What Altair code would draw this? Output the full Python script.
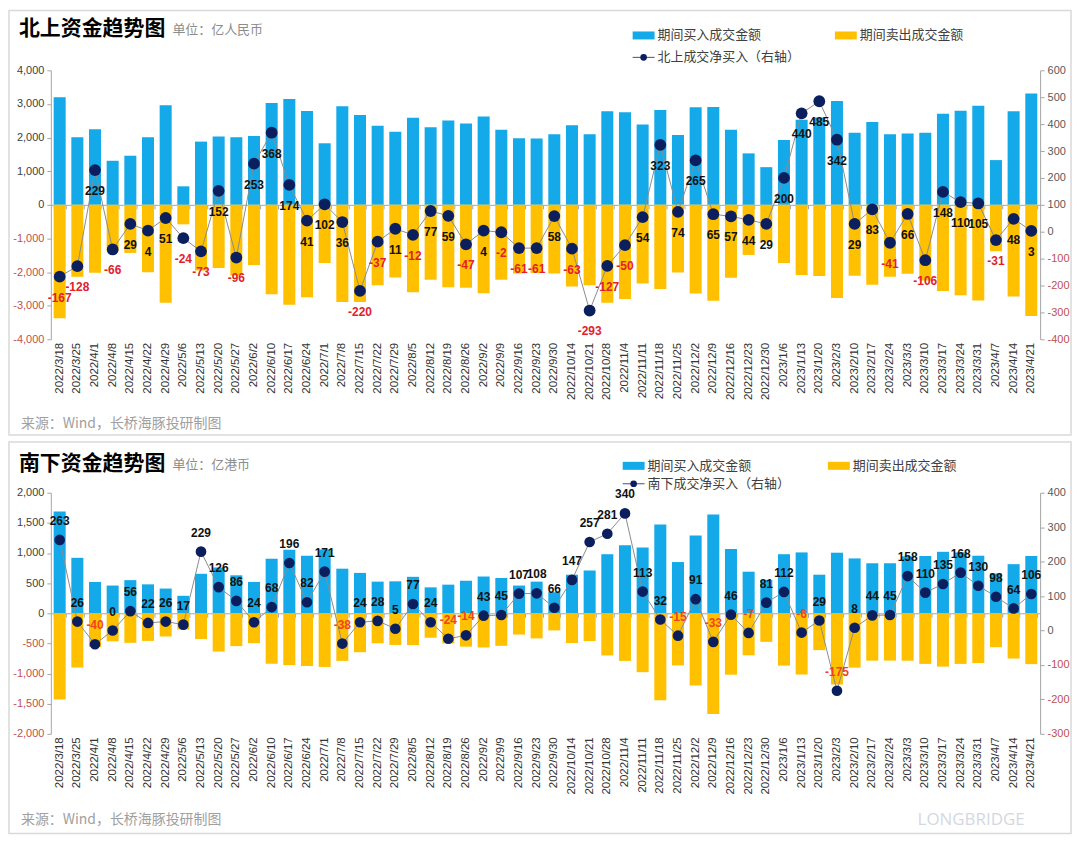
import altair as alt
import pandas as pd

dates = ["2022/3/18", "2022/3/25", "2022/4/1", "2022/4/8", "2022/4/15", "2022/4/22", "2022/4/29",
         "2022/5/6", "2022/5/13", "2022/5/20", "2022/5/27", "2022/6/2", "2022/6/10", "2022/6/17",
         "2022/6/24", "2022/7/1", "2022/7/8", "2022/7/15", "2022/7/22", "2022/7/29", "2022/8/5",
         "2022/8/12", "2022/8/19", "2022/8/26", "2022/9/2", "2022/9/9", "2022/9/16", "2022/9/23",
         "2022/9/30", "2022/10/14", "2022/10/21", "2022/10/28", "2022/11/4", "2022/11/11",
         "2022/11/18", "2022/11/25", "2022/12/2", "2022/12/9", "2022/12/16", "2022/12/23",
         "2022/12/30", "2023/1/6", "2023/1/13", "2023/1/20", "2023/2/3", "2023/2/10", "2023/2/17",
         "2023/2/24", "2023/3/3", "2023/3/10", "2023/3/17", "2023/3/24", "2023/3/31", "2023/4/7",
         "2023/4/14", "2023/4/21"]

# 北上 (亿人民币)
nb_buy = [3200, 2010, 2250, 1310, 1460, 2010, 2960, 550, 1880, 2030, 2010, 2050, 3030, 3150,
          2790, 1830, 2930, 2670, 2350, 2170, 2590, 2310, 2510, 2420, 2630, 2230, 1980, 1970,
          2100, 2370, 2100, 2780, 2750, 2390, 2820, 2080, 2900, 2910, 2230, 1530, 1120, 1930,
          2530, 2600, 3090, 2140, 2460, 2100, 2120, 2140, 2710, 2800, 2950, 1330, 2780, 3310]
nb_sell = [-3370, -2140, -2020, -1380, -1430, -2005, -2910, -580, -1950, -1880, -2100, -1790,
           -2660, -2970, -2750, -1730, -2890, -2890, -2390, -2160, -2600, -2230, -2450, -2470,
           -2630, -2230, -2040, -2030, -2040, -2430, -2390, -2910, -2800, -2340, -2500, -2010,
           -2640, -2850, -2170, -1490, -1090, -1730, -2090, -2120, -2770, -2110, -2380, -2140,
           -2050, -2250, -2560, -2690, -2845, -1380, -2730, -3310]
nb_net = [-167, -128, 229, -66, 29, 4, 51, -24, -73, 152, -96, 253, 368, 174, 41, 102, 36, -220,
          -37, 11, -12, 77, 59, -47, 4, -2, -61, -61, 58, -63, -293, -127, -50, 54, 323, 74, 265,
          65, 57, 44, 29, 200, 440, 485, 342, 29, 83, -41, 66, -106, 148, 110, 105, -31, 48, 3]

# 南下 (亿港币)
sb_buy = [1690, 920, 520, 460, 550, 480, 410, 290, 655, 760, 630, 520, 905, 1055, 955, 1060, 740,
          670, 525, 530, 605, 430, 475, 540, 610, 585, 460, 525, 350, 640, 710, 980, 1130, 1090,
          1475, 850, 1290, 1640, 1065, 690, 555, 980, 1010, 640, 1005, 910, 830, 830, 945, 950,
          1020, 1010, 955, 660, 815, 950]
sb_sell = [-1430, -900, -560, -465, -490, -458, -385, -270, -426, -635, -545, -496, -837, -860,
           -873, -890, -790, -646, -497, -525, -528, -406, -500, -554, -567, -540, -353, -417,
           -284, -493, -460, -699, -790, -977, -1443, -865, -1199, -1673, -1019, -697, -474, -868,
           -1016, -611, -1180, -902, -786, -785, -787, -840, -885, -840, -825, -562, -751, -844]
sb_net = [263, 26, -40, 0, 56, 22, 26, 17, 229, 126, 86, 24, 68, 196, 82, 171, -38, 24, 28, 5, 77,
          24, -24, -14, 43, 45, 107, 108, 66, 147, 257, 281, 340, 113, 32, -15, 91, -33, 46, -7,
          81, 112, -6, 29, -175, 8, 44, 45, 158, 110, 135, 168, 130, 98, 64, 106]

CJK = "Noto Sans CJK SC"
NUM = "Liberation Sans"
BLUE = "#14A9E8"
YELLOW = "#FFC000"
NAVY = "#0B1F5E"
GREY = "#A6A6A6"
W = 993
one = pd.DataFrame({"k": [0]})


def txt(t, x, y, size, color, weight="normal", font=CJK, align="left"):
    return alt.Chart(one).mark_text(text=t, fontSize=size, color=color, fontWeight=weight,
                                    font=font, align=align, baseline="middle").encode(
        x=alt.value(x), y=alt.value(y))


def rect(x, x2, y, y2, **kw):
    return alt.Chart(one).mark_rect(**kw).encode(
        x=alt.value(x), x2=alt.value(x2), y=alt.value(y), y2=alt.value(y2))


def panel(buy, sell, net, H, ydom, ystep, rdom, rstep, title, unit, net_name, dy, neg_col,
          psize, box_top, box_bottom, title_y, leg1_y, leg2_y, leg_x, leg_x2, src_y, extra=None):
    n = len(dates)
    bars_df = pd.DataFrame({"date": dates * 2, "type": ["buy"] * n + ["sell"] * n,
                            "value": buy + sell})
    net_df = pd.DataFrame({"date": dates, "net": net, "label": [str(v) for v in net]})
    xs = alt.Scale(paddingInner=0.32, paddingOuter=0.16)
    x_lab = alt.X("date:N", sort=dates, scale=xs,
                  axis=alt.Axis(title=None, orient="bottom", labelAngle=270, labelFont=NUM,
                                labelFontSize=11.5, labelColor="#333333", domain=False,
                                ticks=False, labelPadding=3, labelOverlap=False))
    x_zero = alt.X("date:N", sort=dates, scale=xs,
                   axis=alt.Axis(title=None, orient="bottom", offset=-H / 2, labels=False,
                                 domain=True, domainColor=GREY, ticks=True, tickBand="extent",
                                 tickSize=4, tickColor=GREY))
    yl = alt.Y("value:Q", stack=None, scale=alt.Scale(domain=ydom, nice=False),
               axis=alt.Axis(title=None, values=list(range(ydom[0], ydom[1] + 1, ystep)),
                             grid=False, domainColor=GREY, tickColor=GREY, tickSize=4,
                             labelFont=NUM, labelFontSize=11, labelPadding=3,
                             labelExpr="(datum.value < 0 ? '-' : '') + format(abs(datum.value), ',')",
                             labelColor=alt.ExprRef(expr="datum.value < 0 ? '#C0504D' : '#404040'")))
    yr = alt.Y("net:Q", scale=alt.Scale(domain=rdom, nice=False),
               axis=alt.Axis(title=None, orient="right",
                             values=list(range(rdom[0], rdom[1] + 1, rstep)),
                             grid=False, domainColor=GREY, tickColor=GREY, tickSize=4,
                             labelFont=NUM, labelFontSize=11, labelPadding=3,
                             labelExpr="(datum.value < 0 ? '-' : '') + format(abs(datum.value), ',')",
                             labelColor=alt.ExprRef(expr="datum.value < 0 ? '#C0504D' : '#595959'")))

    box = rect(-42, 1024, box_top, box_bottom, fillOpacity=0, stroke="#D9D9D9", strokeWidth=1.5)
    bars = alt.Chart(bars_df).mark_bar().encode(
        x=x_lab, y=yl,
        color=alt.Color("type:N", scale=alt.Scale(domain=["buy", "sell"], range=[BLUE, YELLOW]),
                        legend=None))
    deco = [
        txt(title, -32, title_y, 21, "#000000", weight="bold"),
        txt(unit, 122, title_y + 1, 13, "#8C8C8C"),
        rect(leg_x, leg_x + 22, leg1_y - 4, leg1_y + 4, color=BLUE),
        txt("期间买入成交金额", leg_x + 25, leg1_y, 13, "#404040"),
        rect(leg_x2, leg_x2 + 22, leg1_y - 4, leg1_y + 4, color=YELLOW),
        txt("期间卖出成交金额", leg_x2 + 25, leg1_y, 13, "#404040"),
        alt.Chart(one).mark_rule(color="#44506E", strokeWidth=1).encode(
            x=alt.value(leg_x), x2=alt.value(leg_x + 22), y=alt.value(leg2_y)),
        alt.Chart(one).mark_circle(size=45, color=NAVY, opacity=1).encode(
            x=alt.value(leg_x + 11), y=alt.value(leg2_y)),
        txt(net_name, leg_x + 25, leg2_y, 13, "#404040"),
        txt("来源：Wind，长桥海豚投研制图", -30, src_y, 14, "#A0A0A0"),
    ]
    if extra is not None:
        deco.append(extra)
    bar_layer = alt.layer(box, bars, *deco)

    line = alt.Chart(net_df).mark_line(color="#8C8C8C", strokeWidth=1).encode(x=x_zero, y=yr)
    pts = alt.Chart(net_df).mark_circle(size=psize, color=NAVY, opacity=1).encode(x=x_zero, y=yr)
    lbl = alt.Chart(net_df).mark_text(dy=dy, fontSize=12, fontWeight="bold", font=NUM).encode(
        x=x_zero, y=yr, text="label:N",
        color=alt.condition("datum.net < 0", alt.value(neg_col), alt.value("#111111")))
    net_layer = alt.layer(line, pts, lbl)

    return alt.layer(bar_layer, net_layer).resolve_scale(y="independent").resolve_axis(
        x="independent").properties(width=W, height=H)


top = panel(nb_buy, nb_sell, nb_net, 270, [-4000, 4000], 1000, [-400, 600], 100,
            "北上资金趋势图", "单位：亿人民币", "北上成交净买入（右轴）", 21, "#E2202C", 140,
            -60, 366, -41, -35, -13, 584, 787, 355)

logo = txt("LONGBRIDGE", 870, 329, 17, "#D3D8DF", font="Open Sans")
bottom = panel(sb_buy, sb_sell, sb_net, 242, [-2000, 2000], 500, [-300, 400], 100,
               "南下资金趋势图", "单位：亿港币", "南下成交净买入（右轴）", -19, "#F0441E", 115,
               -51, 342, -29, -27, -9, 574, 780, 329, extra=logo)

chart = alt.vconcat(top, bottom, spacing=5).properties(padding=0).configure_view(stroke=None)
chart.save("out.html", embed_options={"renderer": "svg", "actions": False})
